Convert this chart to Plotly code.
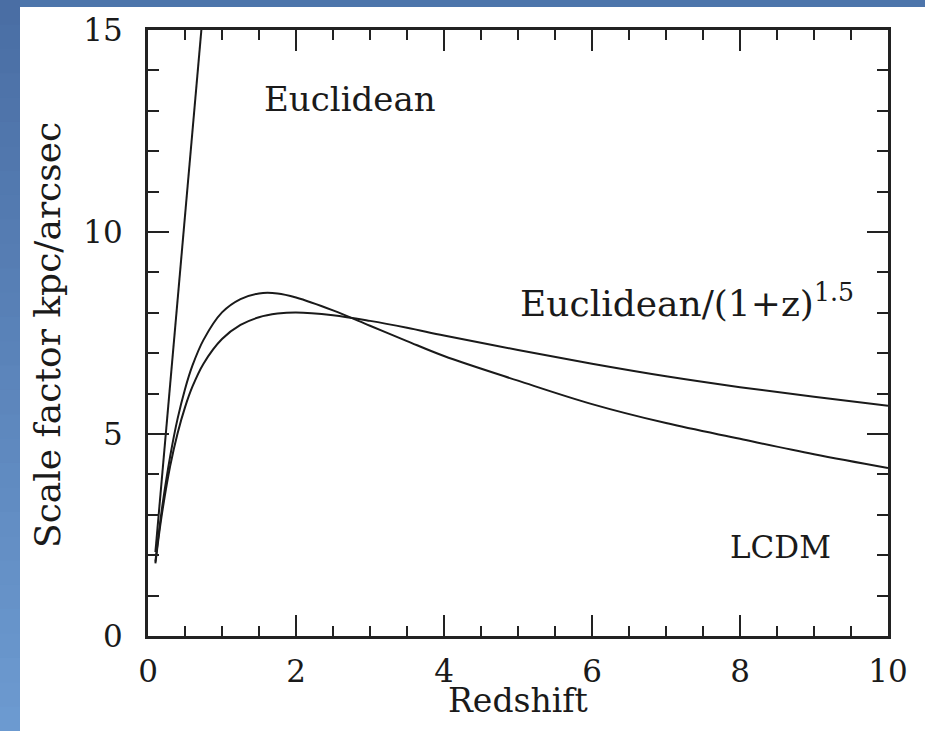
import plotly.graph_objects as go

# ---- data ----
z_euclid = [0.1, 0.75]
s_euclid = [2.08, 15.6]

z_curve = [0.1, 0.15, 0.2, 0.3, 0.4, 0.5, 0.6, 0.75, 1.0, 1.25, 1.5, 1.75, 2.0,
           2.5, 3.0, 3.5, 4.0, 5.0, 6.0, 7.0, 8.0, 9.0, 10.0]
s_euclid_15 = [1.80, 2.53, 3.16, 4.21, 5.02, 5.66, 6.17, 6.74, 7.35, 7.70, 7.89, 7.98, 8.01,
               7.94, 7.80, 7.63, 7.44, 7.08, 6.74, 6.43, 6.16, 5.92, 5.70]
s_lcdm = [1.84, 2.61, 3.30, 4.45, 5.38, 6.11, 6.69, 7.33, 8.01, 8.34, 8.48, 8.48, 8.38,
          8.06, 7.68, 7.30, 6.93, 6.32, 5.74, 5.27, 4.88, 4.50, 4.16]

x_ticks = [0, 2, 4, 6, 8, 10]
y_ticks = [0, 5, 10, 15]

FONT = "DejaVu Serif"
INK = "#1a1a1a"

fig = go.Figure()
line_style = dict(color=INK, width=2)
fig.add_trace(go.Scatter(x=z_euclid, y=s_euclid, mode="lines", line=line_style, showlegend=False))
fig.add_trace(go.Scatter(x=z_curve, y=s_euclid_15, mode="lines", line=dict(line_style, shape="spline"), showlegend=False))
fig.add_trace(go.Scatter(x=z_curve, y=s_lcdm, mode="lines", line=dict(line_style, shape="spline"), showlegend=False))

W, H = 925, 731
L, R, T, B = 148, 37, 30, 95
pw, ph = W - L - R, H - T - B

def px_x(p):
    return (p - L) / pw

def px_y(p):
    return (H - B - p) / ph

# blue frame (top band and left gradient band)
shapes = []
shapes.append(dict(type="rect", xref="paper", yref="paper", x0=px_x(0), x1=px_x(W), y0=px_y(7), y1=px_y(0),
                   fillcolor="#4d75ab", line=dict(width=0), layer="below"))
n = 30
c0 = (0x4a, 0x6e, 0xa4)
c1 = (0x6c, 0x9a, 0xd0)
for i in range(n):
    t = i / (n - 1)
    col = "rgb(%d,%d,%d)" % tuple(round(a + (b - a) * t) for a, b in zip(c0, c1))
    shapes.append(dict(type="rect", xref="paper", yref="paper", x0=px_x(0), x1=px_x(20),
                       y0=px_y(H * (i + 1) / n + 1), y1=px_y(H * i / n),
                       fillcolor=col, line=dict(width=0), layer="below"))

axis_common = dict(
    showgrid=False, zeroline=False, showline=True, linecolor="#222", linewidth=3,
    mirror="allticks", ticks="inside", tickcolor="#222", tickwidth=2,
    tickfont=dict(family=FONT, size=31, color=INK),
)

fig.update_xaxes(range=[0, 10], tickvals=x_ticks, ticklen=21,
                 minor=dict(dtick=0.5, ticks="inside", ticklen=10, tickcolor="#222", tickwidth=2),
                 ticklabelstandoff=6, **axis_common)
fig.update_yaxes(range=[0, 15], tickvals=y_ticks, ticklen=21,
                 minor=dict(dtick=1, ticks="inside", ticklen=11, tickcolor="#222", tickwidth=2),
                 ticklabelstandoff=16, **axis_common)

annotations = [
    dict(x=2.73, y=13.3, xref="x", yref="y", text="Euclidean", showarrow=False,
         xanchor="center", yanchor="middle", font=dict(family=FONT, size=34, color=INK)),
    dict(x=5.0, y=8.3, xref="x", yref="y", xanchor="left", yanchor="middle",
         text="Euclidean/(1+z)<sup>1.5</sup>",
         showarrow=False, font=dict(family=FONT, size=36, color=INK)),
    dict(x=8.55, y=2.2, xref="x", yref="y", text="LCDM", showarrow=False,
         xanchor="center", yanchor="middle", font=dict(family=FONT, size=31, color=INK)),
    dict(x=0.5, y=px_y(700), xref="paper", yref="paper", text="Redshift", showarrow=False,
         xanchor="center", yanchor="middle", font=dict(family=FONT, size=33, color=INK)),
    dict(x=px_x(48), y=px_y(335), xref="paper", yref="paper", text="Scale factor kpc/arcsec",
         xanchor="center", yanchor="middle",
         textangle=-90, showarrow=False, font=dict(family=FONT, size=36, color=INK)),
]

fig.update_layout(
    width=W, height=H, margin=dict(l=L, r=R, t=T, b=B, autoexpand=False),
    paper_bgcolor="white", plot_bgcolor="white",
    shapes=shapes, annotations=annotations,
)

fig.write_html("out.html")
